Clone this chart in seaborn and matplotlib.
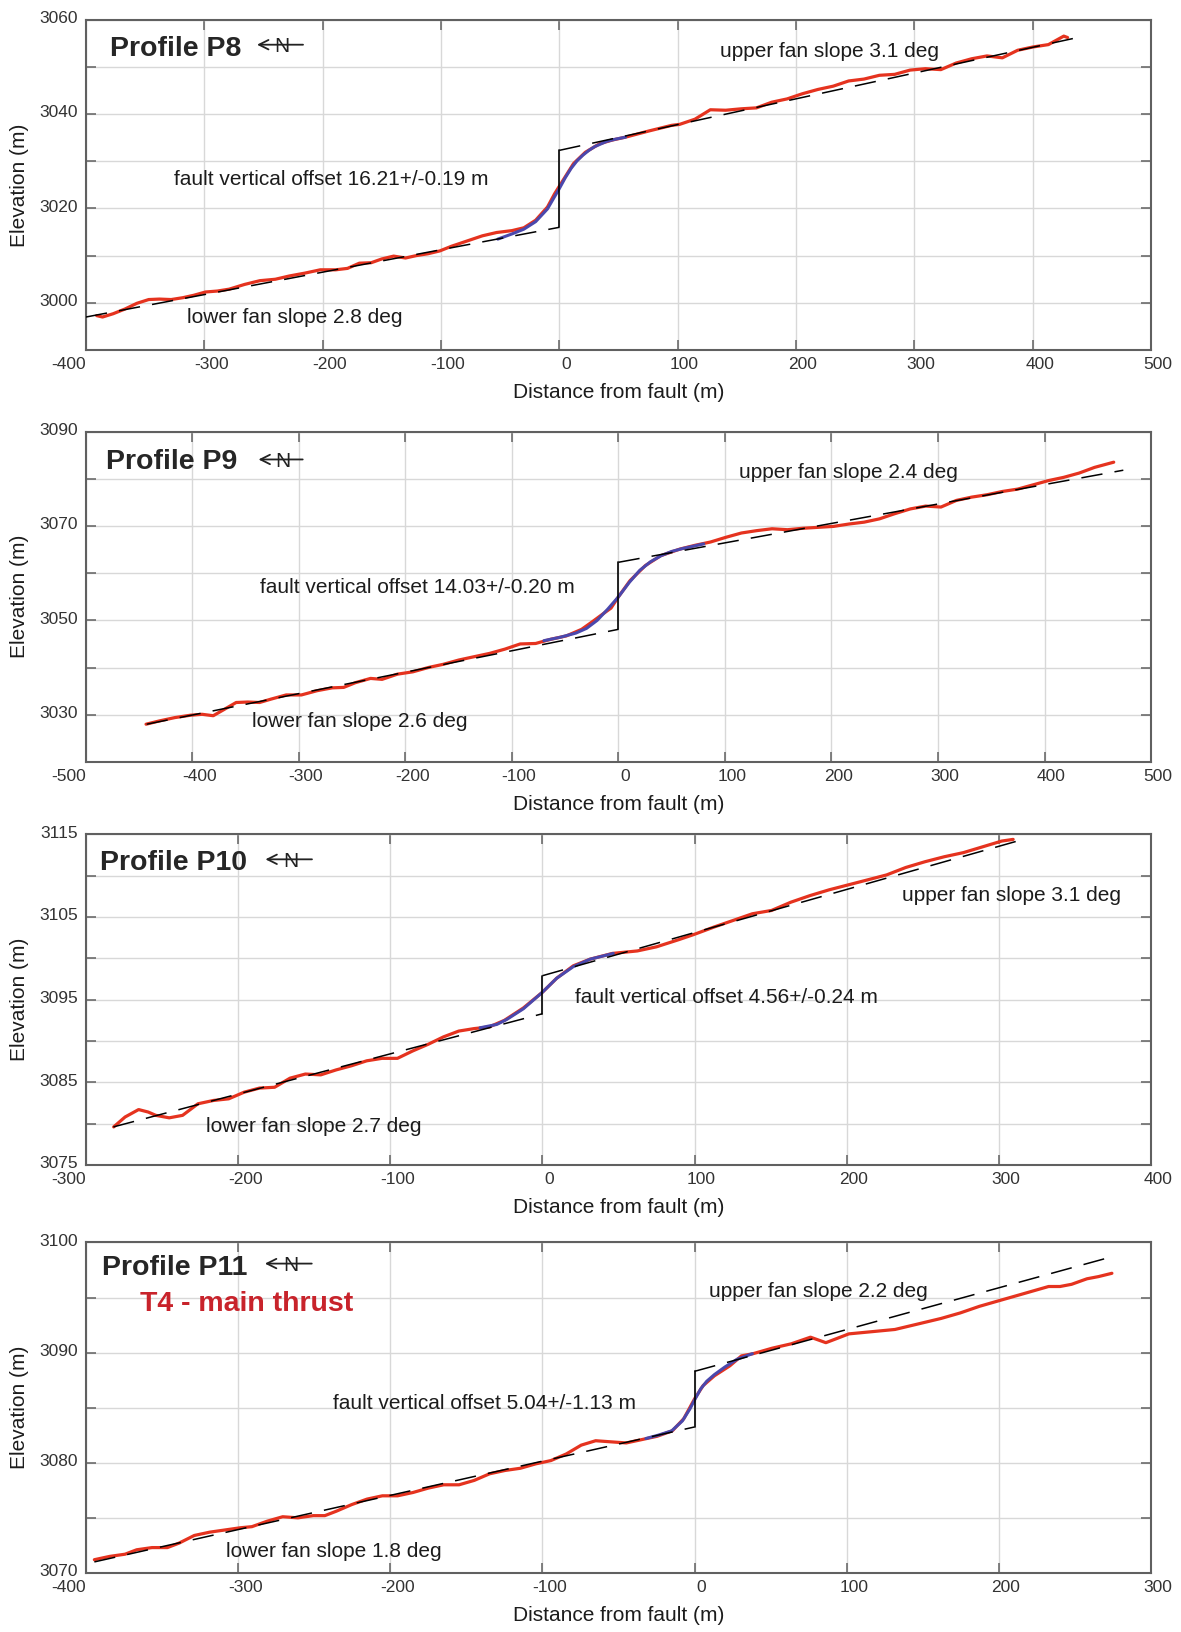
import numpy as np
import matplotlib
matplotlib.use("Agg")
import matplotlib.pyplot as plt
import matplotlib.transforms as mtransforms
import pandas as pd
import seaborn as sns

sns.set_theme(style="white")
plt.rcParams["font.family"] = ["Liberation Sans", "DejaVu Sans"]

# ---------------------------------------------------------------- data
# Topographic profiles across the thrust (distance from fault, elevation)
p8_dist = [-391, -386, -377, -367, -357, -347, -338, -328, -318, -309, -299, -289, -279,
           -266, -253, -240, -228, -215, -202, -189, -179, -169, -159, -150, -140, -130,
           -121, -111, -101, -91, -78, -65, -53, -40, -30, -20, -10, -4, 3, 12, 22, 34,
           45, 56, 75.6, 95, 101.6, 114.6, 127.6, 140.6, 153.6, 166.6, 179.5, 192.5, 205.5,
           218.5, 231.5, 244.5, 257.5, 270.5, 283.4, 296.4, 309.4, 322.4, 335.4, 348.4,
           361.4, 374.4, 387.3, 400.3, 413.3, 419.8, 426.3, 429.5]
p8_elev = [2997.3, 2997.0, 2997.7, 2998.7, 2999.9, 3000.7, 3000.8, 3000.7, 3001.1, 3001.6,
           3002.3, 3002.5, 3002.9, 3003.9, 3004.7, 3005.0, 3005.7, 3006.3, 3007.0, 3007.0,
           3007.3, 3008.4, 3008.5, 3009.3, 3009.9, 3009.5, 3010.0, 3010.4, 3011.0, 3012.0,
           3013.1, 3014.2, 3014.9, 3015.3, 3015.9, 3017.5, 3020.3, 3023.1, 3025.9, 3029.5,
           3031.9, 3033.7, 3034.5, 3035.1, 3036.4, 3037.6, 3037.8, 3038.9, 3040.9, 3040.8,
           3041.1, 3041.3, 3042.5, 3043.2, 3044.3, 3045.2, 3045.9, 3047.0, 3047.4, 3048.2,
           3048.4, 3049.3, 3049.6, 3049.4, 3050.8, 3051.7, 3052.3, 3051.9, 3053.5, 3054.2,
           3054.7, 3055.6, 3056.5, 3056.2]
p8_fit_dist = [-52, -40, -30, -20, -10, -4, 0, 5, 10, 15, 20, 25, 30, 40, 48, 56]
p8_fit_elev = [3013.5, 3014.6, 3015.6, 3017.2, 3019.9, 3022.5, 3024.2, 3026.5, 3028.5,
               3030.1, 3031.3, 3032.3, 3033.1, 3034.2, 3034.7, 3035.1]
p8_lower = [(-400, 2997.0), (0, 3016.0)]
p8_upper = [(0, 3032.3), (438, 3056.2)]

p9_dist = [-443.6, -431, -416.6, -402, -391, -380.5, -369.7, -359, -348, -337, -326.5,
           -312, -297.7, -283, -268.8, -258, -247, -232.8, -222, -207.6, -193, -178.7,
           -164.3, -149.9, -135.5, -121, -106.7, -92.3, -77.8, -63.4, -49, -34.6, -24, -15,
           -7, 0, 10.8, 25.2, 39.7, 57.7, 72, 86.5, 101, 115.4, 129.8, 144.2, 158.6, 173,
           187.5, 201.9, 216.3, 230.7, 245.1, 259.5, 274, 288.4, 302.8, 317.2, 331.6, 346,
           360.5, 374.9, 389.3, 403.7, 418.2, 432.6, 447, 465]
p9_elev = [3028.0, 3028.7, 3029.4, 3029.9, 3030.1, 3029.8, 3031.2, 3032.6, 3032.7, 3032.6,
           3033.3, 3034.2, 3034.2, 3035.1, 3035.7, 3035.8, 3036.8, 3037.7, 3037.5, 3038.6,
           3039.1, 3040.0, 3040.7, 3041.6, 3042.3, 3043.0, 3043.9, 3045.0, 3045.1, 3046.0,
           3046.7, 3048.1, 3049.8, 3051.3, 3052.6, 3055.0, 3058.4, 3061.6, 3063.7, 3065.1,
           3065.9, 3066.6, 3067.6, 3068.5, 3069.0, 3069.4, 3069.2, 3069.5, 3069.7, 3069.9,
           3070.4, 3070.8, 3071.5, 3072.6, 3073.6, 3074.2, 3074.0, 3075.4, 3076.1, 3076.6,
           3077.3, 3077.8, 3078.7, 3079.6, 3080.3, 3081.2, 3082.4, 3083.5]
p9_fit_dist = [-70, -55, -40, -30, -20, -10, 0, 10, 20, 30, 40, 50, 60, 70, 80]
p9_fit_elev = [3045.7, 3046.4, 3047.3, 3048.3, 3050.0, 3052.4, 3055.0, 3058.0, 3060.6,
               3062.4, 3063.7, 3064.6, 3065.2, 3065.7, 3066.2]
p9_lower = [(-443, 3028.0), (0, 3048.1)]
p9_upper = [(0, 3062.3), (474, 3081.8)]

p10_dist = [-281.8, -274.3, -265.4, -259.1, -254.1, -245.3, -236.5, -226.4, -216.3, -206.2,
            -196.1, -186, -176, -165.9, -155.8, -145.7, -135.6, -125.5, -115.5, -105.4,
            -95.3, -85.2, -75.1, -65, -55, -44.9, -35, -25, -12.5, 0, 9.4, 20.3, 31.3, 46,
            62.4, 75, 90.2, 99.7, 112.9, 125.5, 138, 150.6, 163.3, 175.9, 188.5, 201.1,
            213.7, 226.2, 238.8, 251.5, 264.1, 276.7, 289.3, 301.9, 309.4]
p10_elev = [3079.6, 3080.8, 3081.7, 3081.4, 3081.0, 3080.7, 3081.0, 3082.4, 3082.8, 3083.0,
            3083.8, 3084.3, 3084.4, 3085.5, 3086.0, 3085.9, 3086.5, 3087.0, 3087.6, 3087.9,
            3087.9, 3088.8, 3089.6, 3090.5, 3091.2, 3091.5, 3091.7, 3092.5, 3094.0, 3095.9,
            3097.6, 3099.1, 3099.9, 3100.6, 3100.9, 3101.4, 3102.3, 3102.9, 3103.8, 3104.6,
            3105.4, 3105.8, 3106.8, 3107.6, 3108.3, 3108.9, 3109.5, 3110.1, 3111.0, 3111.7,
            3112.3, 3112.8, 3113.5, 3114.2, 3114.4]
p10_fit_dist = [-41, -30, -23.5, -12.5, 0, 9.4, 20.3, 31.3, 46.6]
p10_fit_elev = [3091.6, 3092.0, 3092.6, 3093.9, 3095.9, 3097.6, 3099.0, 3099.9, 3100.6]
p10_lower = [(-282, 3079.6), (0, 3093.3)]
p10_upper = [(0, 3097.9), (316, 3114.4)]

p11_dist = [-394.5, -384.4, -374.3, -366.7, -356.6, -346.5, -338.9, -328.8, -318.7, -308.6,
            -298.5, -290.9, -280.8, -270.7, -260.7, -250.6, -243, -235.5, -225.4, -215.3,
            -205.2, -195.2, -185.1, -175, -164.9, -154.8, -144.8, -134.7, -124.6, -114.5,
            -104.4, -94.4, -84.3, -74.5, -65, -55, -44.9, -34.8, -24.7, -14.6, -7.1, 0, 5.6,
            13.1, 23.2, 30.8, 38.4, 51, 63.6, 76.2, 86.3, 93.9, 101.4, 116.6, 131.7, 146.9,
            162, 174.6, 187.2, 199.8, 212.5, 225.1, 232.7, 240.2, 247.8, 257.9, 265.5, 274.3]
p11_elev = [3071.2, 3071.5, 3071.7, 3072.1, 3072.3, 3072.3, 3072.7, 3073.4, 3073.7, 3073.9,
            3074.1, 3074.2, 3074.7, 3075.1, 3075.0, 3075.2, 3075.2, 3075.6, 3076.2, 3076.7,
            3077.0, 3077.0, 3077.3, 3077.7, 3078.0, 3078.0, 3078.4, 3079.0, 3079.3, 3079.5,
            3079.9, 3080.2, 3080.8, 3081.6, 3082.0, 3081.9, 3081.8, 3082.1, 3082.4, 3082.9,
            3084.0, 3085.8, 3087.0, 3087.9, 3088.8, 3089.7, 3089.9, 3090.4, 3090.8, 3091.4,
            3090.9, 3091.3, 3091.7, 3091.9, 3092.1, 3092.6, 3093.1, 3093.6, 3094.2, 3094.7,
            3095.2, 3095.7, 3096.0, 3096.0, 3096.2, 3096.7, 3096.9, 3097.2]
p11_fit_dist = [-32, -24, -15, -8, -3, 0, 4, 8, 13, 20, 28, 38]
p11_fit_elev = [3082.2, 3082.5, 3082.9, 3083.8, 3084.9, 3085.7, 3086.7, 3087.4, 3088.0,
                3088.7, 3089.4, 3089.9]
p11_lower = [(-394.5, 3071.0), (0, 3083.25)]
p11_upper = [(0, 3088.3), (274.3, 3098.7)]

# axis limits, tick spacing and the first labelled elevation tick
x_limits = [(-400, 500), (-500, 500), (-300, 400), (-400, 300)]
y_limits = [(2990, 3060), (3020, 3090), (3075, 3115), (3070, 3100)]
y_steps = [10, 10, 5, 5]
y_first_label = [3000, 3030, 3075, 3070]

profile_names = ["Profile P8", "Profile P9", "Profile P10", "Profile P11"]
offset_labels = ["fault vertical offset 16.21+/-0.19 m",
                 "fault vertical offset 14.03+/-0.20 m",
                 "fault vertical offset 4.56+/-0.24 m",
                 "fault vertical offset 5.04+/-1.13 m"]
upper_labels = ["upper fan slope 3.1 deg", "upper fan slope 2.4 deg",
                "upper fan slope 3.1 deg", "upper fan slope 2.2 deg"]
lower_labels = ["lower fan slope 2.8 deg", "lower fan slope 2.6 deg",
                "lower fan slope 2.7 deg", "lower fan slope 1.8 deg"]
fault_name = "T4 - main thrust"

# ---------------------------------------------------------------- layout
profiles = [
    (p8_dist, p8_elev, p8_fit_dist, p8_fit_elev, p8_lower, p8_upper),
    (p9_dist, p9_elev, p9_fit_dist, p9_fit_elev, p9_lower, p9_upper),
    (p10_dist, p10_elev, p10_fit_dist, p10_fit_elev, p10_lower, p10_upper),
    (p11_dist, p11_elev, p11_fit_dist, p11_fit_elev, p11_lower, p11_upper),
]
axes_bottoms = [0.7855, 0.5331, 0.2862, 0.0362]
axes_height = 0.2025
axes_left, axes_width = 0.0728, 0.9018

# text placement in axes fractions: (x, y)
title_pos = [(0.0225, 0.891), (0.0192, 0.888), (0.0135, 0.8916), (0.015, 0.9027)]
arrow_pos = [(0.1606, 0.2038, 0.924), (0.162, 0.2035, 0.9154),
             (0.1685, 0.2122, 0.9247), (0.168, 0.212, 0.936)]
offset_pos = [(0.0826, 0.500), (0.1638, 0.5106), (0.459, 0.491), (0.232, 0.4954)]
upper_pos = [(0.5953, 0.888), (0.613, 0.858), (0.766, 0.798), (0.5854, 0.8359)]
lower_pos = [(0.0948, 0.0818), (0.156, 0.1057), (0.1124, 0.0994), (0.1315, 0.0486)]

RED = "#e5331f"
BLUE = "#4a48ad"
SPINE = "#606060"
TXT = "#1c1c1c"

fig = plt.figure(figsize=(11.81, 16.32), dpi=100)
fig.patch.set_facecolor("white")

for i, (dist, elev, fdist, felev, lower, upper) in enumerate(profiles):
    ax = fig.add_axes([axes_left, axes_bottoms[i], axes_width, axes_height])
    ax.set_facecolor("white")

    prof = pd.DataFrame({"dist": dist, "elev": elev})
    fit = pd.DataFrame({"dist": fdist, "elev": felev})
    sns.lineplot(data=prof, x="dist", y="elev", ax=ax, color=RED, lw=2.3,
                 estimator=None, sort=False, zorder=3)
    sns.lineplot(data=fit, x="dist", y="elev", ax=ax, color=BLUE, lw=2.2,
                 estimator=None, sort=False, zorder=4)

    # fan surface fits either side of the fault and the vertical offset between them
    for seg in (lower, upper):
        sns.lineplot(x=[p[0] for p in seg], y=[p[1] for p in seg], ax=ax, color="black",
                     lw=1.1, linestyle=(0, (14, 8)), estimator=None, sort=False, zorder=5)
    ax.plot([0, 0], [lower[1][1], upper[0][1]], color="black", lw=1.2, zorder=5)

    x0, x1 = x_limits[i]
    y0, y1 = y_limits[i]
    ax.set_xlim(x0, x1)
    ax.set_ylim(y0, y1)
    xt = np.arange(x0, x1 + 1, 100)
    yt = np.arange(y0, y1 + 1, y_steps[i])
    ax.set_xticks(xt)
    ax.set_xticklabels([str(v) for v in xt])
    ax.set_yticks(yt)
    ax.set_yticklabels([str(v) if (v - y_first_label[i]) % (2 * y_steps[i]) == 0 else ""
                        for v in yt])

    ax.grid(True, color="#d8d8d8", lw=1.0, zorder=0)
    ax.set_axisbelow(True)
    for sp in ax.spines.values():
        sp.set_visible(True)
        sp.set_color(SPINE)
        sp.set_linewidth(1.5)
    ax.tick_params(axis="both", which="major", direction="in", length=7, width=1.1,
                   color=SPINE, labelsize=12.5, labelcolor="#333333",
                   top=True, right=True, bottom=True, left=True)
    ax.tick_params(axis="x", pad=5)
    ax.tick_params(axis="y", pad=6)

    # nudge tick labels the way the exported figure places them
    shift = mtransforms.ScaledTranslation(5 / 72, 0, fig.dpi_scale_trans)
    labels = ax.get_xticklabels()
    for k, lab in enumerate(labels):
        if k == 0:
            lab.set_ha("right")
        else:
            lab.set_transform(lab.get_transform() + shift)
    up = mtransforms.ScaledTranslation(0, 2 / 72, fig.dpi_scale_trans)
    for lab in ax.get_yticklabels():
        lab.set_transform(lab.get_transform() + up)

    ax.set_xlabel("Distance from fault (m)", fontsize=15, color=TXT, labelpad=8)
    ax.set_ylabel("Elevation (m)", fontsize=15, color=TXT, labelpad=7)

    # profile name and north arrow
    tx, ty = title_pos[i]
    ax.text(tx, ty, profile_names[i], transform=ax.transAxes, fontsize=20.5,
            fontweight="bold", color="#262626", ha="left", va="baseline", zorder=6)
    ax0, ax1, ay = arrow_pos[i]
    ax.annotate("", xy=(ax0, ay), xytext=(ax1, ay), xycoords="axes fraction",
                textcoords="axes fraction",
                arrowprops=dict(arrowstyle="->", lw=1.3, color="#222222",
                                shrinkA=0, shrinkB=0, mutation_scale=17), zorder=6)
    ax.text((ax0 + ax1) / 2 + 0.002, ay - 0.022, "N", transform=ax.transAxes,
            fontsize=15, color="#222222", ha="center", va="baseline", zorder=6)

    ax.text(*offset_pos[i], offset_labels[i], transform=ax.transAxes, fontsize=15,
            color=TXT, ha="left", va="baseline", zorder=6)
    ax.text(*upper_pos[i], upper_labels[i], transform=ax.transAxes, fontsize=15,
            color=TXT, ha="left", va="baseline", zorder=6)
    ax.text(*lower_pos[i], lower_labels[i], transform=ax.transAxes, fontsize=15,
            color=TXT, ha="left", va="baseline", zorder=6)

    if i == 3:
        ax.text(0.0507, 0.7933, fault_name, transform=ax.transAxes, fontsize=20.5,
                fontweight="bold", color="#c8232b", ha="left", va="baseline", zorder=6)

fig.savefig("out.png", dpi=100, facecolor="white")
